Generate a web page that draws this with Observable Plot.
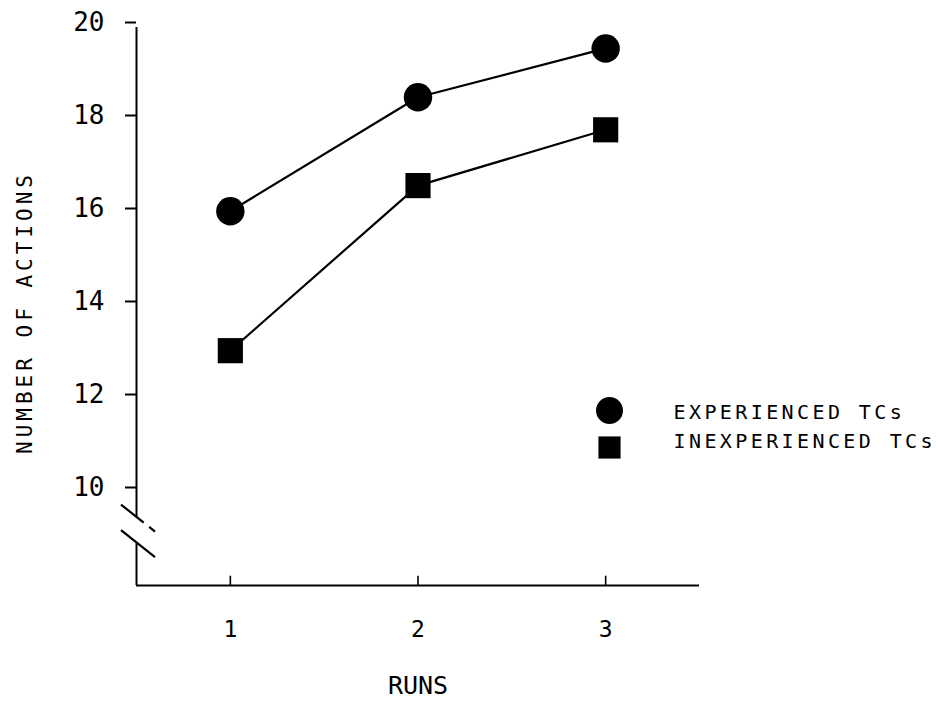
<!DOCTYPE html>
<html>
<head>
<meta charset="utf-8">
<script src="https://cdn.jsdelivr.net/npm/d3@7"></script>
<script src="https://cdn.jsdelivr.net/npm/@observablehq/plot@0.6"></script>
<style>
  html, body { margin: 0; padding: 0; background: #fff; }
  #chart svg { display: block; background: #fff; }
</style>
</head>
<body>
<div id="chart"></div>
<script>
// ---- data ----
const runs = [1, 2, 3];
const experienced = [16.05, 18.5, 19.55];
const inexperienced = [13.05, 16.6, 17.8];
const seriesNames = ["EXPERIENCED TCs", "INEXPERIENCED TCs"];
const seriesSymbols = ["circle", "square"];
const xTicks = [1, 2, 3];
const yTicks = [10, 12, 14, 16, 18, 20];
const xDomain = [0.5, 3.5];
const yDomain = [8, 20];
const breakValues = [9.45, 8.9];   // y-axis break (in data units)
const xLabel = "RUNS";
const yLabel = "NUMBER OF ACTIONS";

const rows = [];
runs.forEach((r, i) => {
  rows.push({run: r, value: experienced[i], series: seriesNames[0]});
  rows.push({run: r, value: inexperienced[i], series: seriesNames[1]});
});

const FONT = "'DejaVu Sans Mono', 'Liberation Mono', monospace";

// axis break slashes drawn through the library's scales
function axisBreak(index, scales, values, dimensions, context) {
  const g = d3.create("svg:g").attr("aria-label", "axis-break");
  const x0 = scales.x(xDomain[0]);
  breakValues.forEach((v, i) => {
    const y0 = scales.y(v);
    g.append("line")
      .attr("x1", x0 - 15).attr("y1", y0 - 13)
      .attr("x2", x0 + 19).attr("y2", y0 + 14)
      .attr("stroke", "black").attr("stroke-width", 2.2)
      .attr("stroke-dasharray", i === 0 ? "29,7,9" : null);
  });
  return g.node();
}

const chart = Plot.plot({
  width: 940,
  height: 704,
  marginLeft: 136,
  marginRight: 241,
  marginTop: 27,
  marginBottom: 119,
  style: {fontFamily: FONT, color: "black", background: "white"},
  x: {domain: xDomain},
  y: {domain: yDomain},
  symbol: {domain: seriesNames, range: seriesSymbols},
  marks: [
    // y axis line with break
    Plot.ruleX([xDomain[0]], {y1: breakValues[0], y2: yDomain[1], stroke: "black", strokeWidth: 2}),
    Plot.ruleX([xDomain[0]], {y1: yDomain[0], y2: breakValues[1], stroke: "black", strokeWidth: 2}),
    // x axis line
    Plot.ruleY([yDomain[0]], {x1: xDomain[0], x2: xDomain[1], stroke: "black", strokeWidth: 2}),
    axisBreak,
    // y axis ticks + labels
    Plot.axisY({ticks: yTicks, tickSize: 11, tickPadding: 21, tickFormat: d => String(d),
      fontSize: 26, dy: -5, label: null, stroke: "black", strokeWidth: 2}),
    // x axis ticks (pointing upward)
    Plot.ruleX(xTicks, {x: d => d, y1: yDomain[0], y2: yDomain[0] + 0.2, stroke: "black", strokeWidth: 1.6}),
    Plot.axisX({ticks: xTicks, tickSize: 0, tickPadding: 35, tickFormat: d => String(d),
      fontSize: 23, label: null}),
    // series lines
    Plot.line(rows, {x: "run", y: "value", z: "series", stroke: "black", strokeWidth: 2.2}),
    Plot.dot(rows, {x: "run", y: "value", symbol: "series", fill: "black", r: 14.2}),
    // axis titles
    Plot.text([yLabel], {text: d => d, frameAnchor: "left", rotate: -90, dx: -111, dy: 6,
      textAnchor: "middle", lineAnchor: "middle", fontSize: 21, fill: "black"}),
    Plot.text([xLabel], {text: d => d, frameAnchor: "bottom", dy: 100, textAnchor: "middle",
      lineAnchor: "middle", fontSize: 25, fill: "black"}),
    // legend
    Plot.dot([seriesNames[0]], {frameAnchor: "top-left", dx: 473, dy: 383, r: 13.5, symbol: seriesSymbols[0], fill: "black"}),
    Plot.dot([seriesNames[1]], {frameAnchor: "top-left", dx: 473, dy: 420, r: 12.5, symbol: seriesSymbols[1], fill: "black"}),
    Plot.text([seriesNames[0]], {text: d => d, frameAnchor: "top-left", dx: 537, dy: 385,
      textAnchor: "start", lineAnchor: "middle", fontSize: 20, fill: "black"}),
    Plot.text([seriesNames[1]], {text: d => d, frameAnchor: "top-left", dx: 537, dy: 414,
      textAnchor: "start", lineAnchor: "middle", fontSize: 20, fill: "black"})
  ]
});

document.getElementById("chart").appendChild(chart);
d3.select(chart).selectAll("text").each(function() {
  const t = this.textContent;
  if (seriesNames.includes(t)) this.style.letterSpacing = "3.4px";
  if (t === yLabel) this.style.letterSpacing = "4px";
});
</script>
</body>
</html>
